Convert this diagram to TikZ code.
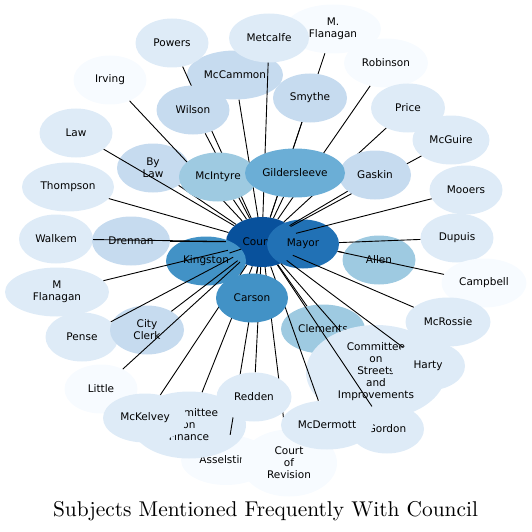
\documentclass[tikz,border=0pt]{standalone}
\usepackage{fontspec}
\newfontfamily\labelfont{DejaVu Sans}
\usetikzlibrary{shapes.geometric}
\pgfdeclarelayer{back}
\pgfdeclarelayer{front}
\pgfsetlayers{back,main,front}
\definecolor{blueA}{HTML}{08519C}
\definecolor{blueB}{HTML}{2171B5}
\definecolor{blueC}{HTML}{4292C6}
\definecolor{blueD}{HTML}{6BAED6}
\definecolor{blueE}{HTML}{9ECAE1}
\definecolor{blueF}{HTML}{C6DBEF}
\definecolor{blueG}{HTML}{DEEBF7}
\definecolor{blueH}{HTML}{F7FBFF}
\tikzset{
  subj/.style={ellipse, draw=none, inner sep=0pt, minimum height=49pt,
    align=center, font=\labelfont\fontsize{10.5}{12}\selectfont},
  link/.style={black, line width=0.9pt}
}
\begin{document}
\begin{tikzpicture}[x=1pt, y=-1pt]
        \useasboundingbox (0,0) rectangle (531,532);
        \begin{pgfonlayer}{back}
        \node[subj, fill=blueH, minimum width=90pt, minimum height=50pt] (asselstine) at (226,460) {Asselstine};
        \node[subj, fill=blueH, minimum width=96pt, minimum height=67pt] (courtrev) at (289,463) {Court\\of\\Revision};
        \node[subj, fill=blueH, minimum width=96pt] (mdotflanagan) at (333,29) {M.\\Flanagan};
        \node[subj, fill=blueF, minimum width=96pt] (mccammon) at (235,75) {McCammon};
        \node[subj, fill=blueG, minimum width=80pt] (metcalfe) at (269,38) {Metcalfe};
        \node[subj, fill=blueH, minimum width=84pt] (robinson) at (386,63) {Robinson};
        \node[subj, fill=blueG, minimum width=73pt] (powers) at (172,43) {Powers};
        \node[subj, fill=blueH, minimum width=73pt] (irving) at (110,80) {Irving};
        \node[subj, fill=blueG, minimum width=73pt] (law) at (76,133) {Law};
        \node[subj, fill=blueG, minimum width=92pt] (thompson) at (68,187) {Thompson};
        \node[subj, fill=blueG, minimum width=74pt] (walkem) at (56,239) {Walkem};
        \node[subj, fill=blueF, minimum width=78pt] (drennan) at (131,241) {Drennan};
        \node[subj, fill=blueF, minimum width=72pt] (bylaw) at (153,168) {By\\Law};
        \node[subj, fill=blueG, minimum width=74pt] (price) at (408,108) {Price};
        \node[subj, fill=blueG, minimum width=77pt] (mcguire) at (451,140) {McGuire};
        \node[subj, fill=blueG, minimum width=73pt] (mooers) at (466,190) {Mooers};
        \node[subj, fill=blueG, minimum width=73pt] (dupuis) at (457,238) {Dupuis};
        \node[subj, fill=blueH, minimum width=85pt] (campbell) at (484,283) {Campbell};
        \node[subj, fill=blueG, minimum width=85pt] (mcrossie) at (448,322) {McRossie};
        \node[subj, fill=blueE, minimum width=84pt] (clements) at (323,329) {Clements};
        \node[subj, fill=blueG, minimum width=140pt, minimum height=94pt] (streets) at (376,372) {Committee\\on\\Streets\\and\\Improvements};
        \node[subj, fill=blueG, minimum width=74pt] (harty) at (428,366) {Harty};
        \node[subj, fill=blueG, minimum width=74pt] (gordon) at (387,429) {Gordon};
        \node[subj, fill=blueE, minimum width=73pt] (allen) at (379,260) {Allen};
        \node[subj, fill=blueA, minimum width=72pt, minimum height=50pt] (council) at (262,242) {Council};
        \node[subj, fill=blueB, minimum width=72pt] (mayor) at (303,244) {Mayor};
        \node[subj, fill=blueC, minimum width=80pt] (kingston) at (206,261) {Kingston};
        \node[subj, fill=blueG, minimum width=104pt] (mflanagan) at (57,292) {M\\Flanagan};
        \node[subj, fill=blueG, minimum width=73pt] (pense) at (82,337) {Pense};
        \node[subj, fill=blueF, minimum width=74pt] (cityclerk) at (147,330) {City\\Clerk};
        \node[subj, fill=blueH, minimum width=73pt] (little) at (101,389) {Little};
        \node[subj, fill=blueG, minimum width=114pt, minimum height=67pt] (finance) at (189,425) {Committee\\on\\Finance};
        \node[subj, fill=blueG, minimum width=84pt] (mckelvey) at (145,418) {McKelvey};
        \end{pgfonlayer}
        \begin{pgfonlayer}{front}
        \node[subj, fill=blueE, minimum width=78pt] (mcintyre) at (218,177) {McIntyre};
        \node[subj, fill=blueF, minimum width=72pt] (gaskin) at (375,175) {Gaskin};
        \node[subj, fill=blueD, minimum width=100pt] (gildersleeve) at (295,173) {Gildersleeve};
        \node[subj, fill=blueF, minimum width=73pt] (wilson) at (193,110) {Wilson};
        \node[subj, fill=blueF, minimum width=74pt] (smythe) at (310,98) {Smythe};
        \node[subj, fill=blueC, minimum width=72pt] (carson) at (252,298) {Carson};
        \node[subj, fill=blueG, minimum width=75pt] (redden) at (254,397) {Redden};
        \node[subj, fill=blueG, minimum width=92pt] (mcdermott) at (327,425) {McDermott};
        \end{pgfonlayer}
        \path[link] (council) edge (powers) edge (irving) edge (law) edge (thompson)
          edge (walkem) edge (drennan) edge (bylaw) edge (mcintyre) edge (wilson)
          edge (mccammon) edge (metcalfe) edge (mdotflanagan) edge (smythe)
          edge (robinson) edge (gildersleeve) edge (gaskin) edge (price)
          edge (mcguire) edge (mooers) edge (mcrossie) edge (harty) edge (gordon)
          edge (streets) edge (clements) edge (mcdermott) edge (courtrev)
          edge (redden) edge (asselstine) edge (carson) edge (finance)
          edge (mckelvey) edge (little) edge (cityclerk) edge (pense)
          edge (mflanagan) edge (kingston);
        \path[link] (mayor) edge (dupuis) edge (allen) edge (campbell);
        \node[inner sep=0pt] (title) at (265.5,511) {\scalebox{2.14}{\fontsize{10}{12}\selectfont Subjects Mentioned Frequently With Council}};
      \end{tikzpicture}
\end{document}
